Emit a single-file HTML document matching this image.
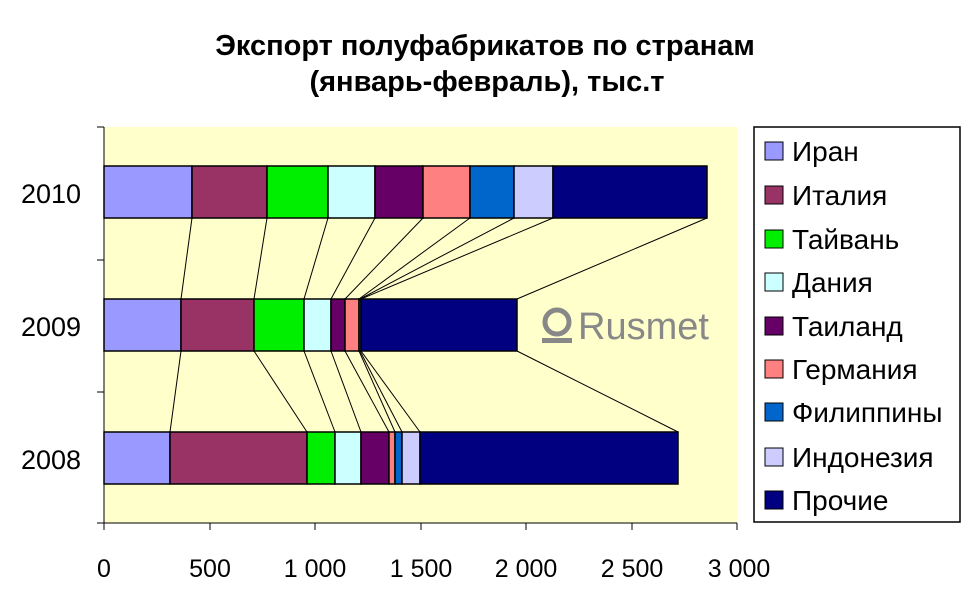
<!DOCTYPE html>
<html><head><meta charset="utf-8"><style>
body{margin:0;background:#fff}
svg{display:block}
text{font-family:"Liberation Sans",Arial,sans-serif}
</style></head><body>
<svg width="970" height="604" viewBox="0 0 970 604" xmlns="http://www.w3.org/2000/svg">
<rect width="970" height="604" fill="#fff"/>
<text x="485" y="55" font-size="29" font-weight="bold" text-anchor="middle">Экспорт полуфабрикатов по странам</text>
<text x="487" y="91" font-size="29" font-weight="bold" text-anchor="middle">(январь-февраль), тыс.т</text>
<rect x="104" y="127" width="633" height="396" fill="#FFFFCC"/>
<g fill="#888">
<circle cx="557" cy="322" r="12" fill="none" stroke="#888" stroke-width="5"/>
<rect x="542" y="338" width="30" height="5" fill="#888"/>
<text x="578" y="339" font-size="38" fill="#888">Rusmet</text>
</g>
<g stroke="#000" stroke-width="1">
<line x1="192" y1="218" x2="181" y2="299"/><line x1="267" y1="218" x2="254" y2="299"/>
<line x1="328" y1="218" x2="304" y2="299"/><line x1="375" y1="218" x2="331" y2="299"/>
<line x1="423" y1="218" x2="345" y2="299"/><line x1="470" y1="218" x2="359" y2="299"/>
<line x1="514" y1="218" x2="360" y2="299"/><line x1="553" y1="218" x2="361" y2="299"/>
<line x1="707" y1="218" x2="517" y2="299"/>
<line x1="181" y1="351" x2="170" y2="432"/><line x1="254" y1="351" x2="307" y2="432"/>
<line x1="304" y1="351" x2="335" y2="432"/><line x1="331" y1="351" x2="361" y2="432"/>
<line x1="345" y1="351" x2="389" y2="432"/><line x1="359" y1="351" x2="395" y2="432"/>
<line x1="360" y1="351" x2="402" y2="432"/><line x1="361" y1="351" x2="420" y2="432"/>
<line x1="517" y1="351" x2="678" y2="432"/>
</g>
<g stroke="#000" stroke-width="1.5">
<rect x="104" y="166" width="88" height="52" fill="#9999FF"/>
<rect x="192" y="166" width="75" height="52" fill="#993366"/>
<rect x="267" y="166" width="61" height="52" fill="#00EE00"/>
<rect x="328" y="166" width="47" height="52" fill="#CCFFFF"/>
<rect x="375" y="166" width="48" height="52" fill="#660066"/>
<rect x="423" y="166" width="47" height="52" fill="#FF8080"/>
<rect x="470" y="166" width="44" height="52" fill="#0066CC"/>
<rect x="514" y="166" width="39" height="52" fill="#CCCCFF"/>
<rect x="553" y="166" width="154" height="52" fill="#000080"/>
<rect x="104" y="299" width="77" height="52" fill="#9999FF"/>
<rect x="181" y="299" width="73" height="52" fill="#993366"/>
<rect x="254" y="299" width="50" height="52" fill="#00EE00"/>
<rect x="304" y="299" width="27" height="52" fill="#CCFFFF"/>
<rect x="331" y="299" width="14" height="52" fill="#660066"/>
<rect x="345" y="299" width="14" height="52" fill="#FF8080"/>
<rect x="359" y="299" width="2" height="52" fill="#0066CC"/>
<rect x="361" y="299" width="156" height="52" fill="#000080"/>
<rect x="104" y="432" width="66" height="52" fill="#9999FF"/>
<rect x="170" y="432" width="137" height="52" fill="#993366"/>
<rect x="307" y="432" width="28" height="52" fill="#00EE00"/>
<rect x="335" y="432" width="26" height="52" fill="#CCFFFF"/>
<rect x="361" y="432" width="28" height="52" fill="#660066"/>
<rect x="389" y="432" width="6" height="52" fill="#FF8080"/>
<rect x="395" y="432" width="7" height="52" fill="#0066CC"/>
<rect x="402" y="432" width="18" height="52" fill="#CCCCFF"/>
<rect x="420" y="432" width="258" height="52" fill="#000080"/>
</g>
<g stroke="#000" stroke-width="1">
<line x1="104" y1="127" x2="104" y2="523"/>
<line x1="104" y1="523" x2="737" y2="523"/>
<line x1="97" y1="127" x2="104" y2="127"/><line x1="97" y1="260" x2="104" y2="260"/>
<line x1="97" y1="392" x2="104" y2="392"/><line x1="97" y1="523" x2="104" y2="523"/>
<line x1="104" y1="523" x2="104" y2="530"/><line x1="210" y1="523" x2="210" y2="530"/>
<line x1="315" y1="523" x2="315" y2="530"/><line x1="421" y1="523" x2="421" y2="530"/>
<line x1="526" y1="523" x2="526" y2="530"/><line x1="632" y1="523" x2="632" y2="530"/>
<line x1="737" y1="523" x2="737" y2="530"/>
</g>
<g font-size="27" text-anchor="middle">
<text x="51" y="203">2010</text><text x="51" y="336">2009</text><text x="51" y="469">2008</text>
</g>
<g font-size="25" text-anchor="middle">
<text x="104" y="577">0</text><text x="210" y="577">500</text><text x="315" y="577">1 000</text>
<text x="421" y="577">1 500</text><text x="526" y="577">2 000</text><text x="632" y="577">2 500</text>
<text x="739" y="577">3 000</text>
</g>
<rect x="754" y="127" width="206" height="395" fill="#fff" stroke="#000" stroke-width="1.5"/>
<g stroke="#000" stroke-width="1">
<rect x="765" y="142" width="18" height="18" fill="#9999FF"/>
<rect x="765" y="186" width="18" height="18" fill="#993366"/>
<rect x="765" y="230" width="18" height="18" fill="#00EE00"/>
<rect x="765" y="273" width="18" height="18" fill="#CCFFFF"/>
<rect x="765" y="317" width="18" height="18" fill="#660066"/>
<rect x="765" y="360" width="18" height="18" fill="#FF8080"/>
<rect x="765" y="403" width="18" height="18" fill="#0066CC"/>
<rect x="765" y="448" width="18" height="18" fill="#CCCCFF"/>
<rect x="765" y="491" width="18" height="18" fill="#000080"/>
</g>
<g font-size="28">
<text x="792" y="161">Иран</text><text x="792" y="205">Италия</text><text x="792" y="249">Тайвань</text>
<text x="792" y="292">Дания</text><text x="792" y="336">Таиланд</text><text x="792" y="379">Германия</text>
<text x="792" y="422">Филиппины</text><text x="792" y="467">Индонезия</text><text x="792" y="510">Прочие</text>
</g>
</svg>
</body></html>
